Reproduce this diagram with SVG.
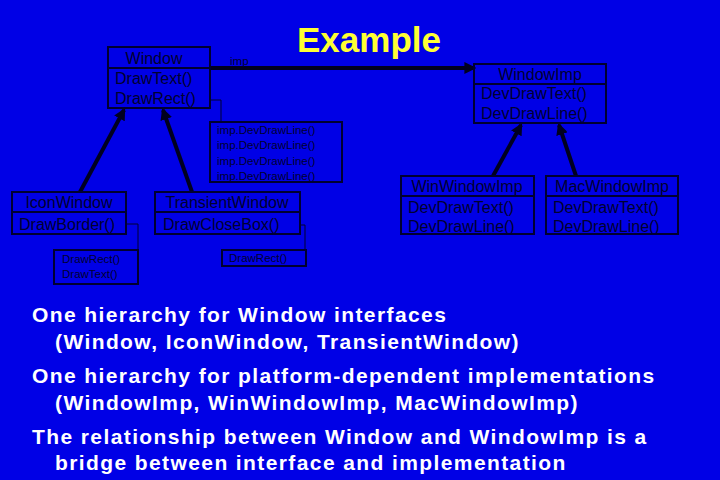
<svg xmlns="http://www.w3.org/2000/svg" width="720" height="480" viewBox="0 0 720 480">
<defs>
<style>
.b{fill:none;stroke:#000030;stroke-width:2}
.t{font-family:"Liberation Sans",Arial,sans-serif;font-size:16px;fill:#000030}
.n{font-family:"Liberation Sans",Arial,sans-serif;font-size:11.5px;fill:#000030}
.c{stroke:#000020;stroke-width:4;fill:none}
.d{stroke:#000030;stroke-width:1;fill:none}
.body{font-family:"Liberation Sans",Arial,sans-serif;font-size:21px;font-weight:bold;fill:#fff;letter-spacing:1.4px}
</style>
<marker id="a" viewBox="0 0 10 10" refX="8" refY="5" markerWidth="3" markerHeight="3" orient="auto"><path d="M0,0L10,5L0,10z" fill="#000020"/></marker>
</defs>
<rect width="720" height="480" fill="#0000E6"/>
<text x="369" y="52" font-family="Liberation Sans,Arial,sans-serif" font-size="35" font-weight="bold" fill="#FFFF33" text-anchor="middle">Example</text>
<g id="connectors">
<line class="c" x1="210" y1="68" x2="474" y2="68" marker-end="url(#a)"/>
<line class="c" x1="80" y1="192" x2="124" y2="110" marker-end="url(#a)"/>
<line class="c" x1="192" y1="192" x2="163" y2="110" marker-end="url(#a)"/>
<line class="c" x1="493" y1="176" x2="521" y2="125" marker-end="url(#a)"/>
<line class="c" x1="576" y1="176" x2="559" y2="125" marker-end="url(#a)"/>
<path class="d" d="M210,100H221V122"/>
<path class="d" d="M126,224H138V250"/>
<path class="d" d="M300,225H305V250"/>
<text class="n" x="230" y="65">imp</text>
</g>
<g id="Window"><rect class="b" x="108" y="47" width="102" height="61"/><line class="b" x1="108" y1="68" x2="210" y2="68"/>
<text class="t" x="154" y="64" text-anchor="middle">Window</text><text class="t" x="115" y="84">DrawText()</text><text class="t" x="115" y="104">DrawRect()</text></g>
<g id="WindowImp"><rect class="b" x="474" y="64" width="132" height="59"/><line class="b" x1="474" y1="84" x2="606" y2="84"/>
<text class="t" x="540" y="80" text-anchor="middle">WindowImp</text><text class="t" x="481" y="99">DevDrawText()</text><text class="t" x="481" y="119">DevDrawLine()</text></g>
<g id="impNote"><rect class="b" x="210" y="122" width="132" height="60"/>
<text class="n" x="217" y="134">imp.DevDrawLine()</text><text class="n" x="217" y="149">imp.DevDrawLine()</text><text class="n" x="217" y="165">imp.DevDrawLine()</text><text class="n" x="217" y="180">imp.DevDrawLine()</text></g>
<g id="IconWindow"><rect class="b" x="12" y="192" width="114" height="42"/><line class="b" x1="12" y1="212" x2="126" y2="212"/>
<text class="t" x="69" y="208" text-anchor="middle">IconWindow</text><text class="t" x="19" y="230">DrawBorder()</text></g>
<g id="TransientWindow"><rect class="b" x="155" y="192" width="145" height="42"/><line class="b" x1="155" y1="212" x2="300" y2="212"/>
<text class="t" x="227" y="208" text-anchor="middle">TransientWindow</text><text class="t" x="163" y="230">DrawCloseBox()</text></g>
<g id="iconNote"><rect class="b" x="54" y="250" width="84" height="34"/>
<text class="n" x="62" y="263">DrawRect()</text><text class="n" x="62" y="278">DrawText()</text></g>
<g id="transNote"><rect class="b" x="222" y="250" width="84" height="16"/>
<text class="n" x="229" y="262">DrawRect()</text></g>
<g id="WinWindowImp"><rect class="b" x="401" y="176" width="133" height="58"/><line class="b" x1="401" y1="196" x2="534" y2="196"/>
<text class="t" x="467" y="192" text-anchor="middle">WinWindowImp</text><text class="t" x="408" y="213">DevDrawText()</text><text class="t" x="408" y="232">DevDrawLine()</text></g>
<g id="MacWindowImp"><rect class="b" x="546" y="176" width="132" height="58"/><line class="b" x1="546" y1="196" x2="678" y2="196"/>
<text class="t" x="612" y="192" text-anchor="middle">MacWindowImp</text><text class="t" x="553" y="213">DevDrawText()</text><text class="t" x="553" y="232">DevDrawLine()</text></g>
<g id="text">
<text class="body" x="32" y="322">One hierarchy for Window interfaces</text>
<text class="body" x="55" y="349">(Window, IconWindow, TransientWindow)</text>
<text class="body" x="32" y="383">One hierarchy for platform-dependent implementations</text>
<text class="body" x="55" y="410">(WindowImp, WinWindowImp, MacWindowImp)</text>
<text class="body" x="32" y="444">The relationship between Window and WindowImp is a</text>
<text class="body" x="55" y="470">bridge between interface and implementation</text>
</g>
</svg>
